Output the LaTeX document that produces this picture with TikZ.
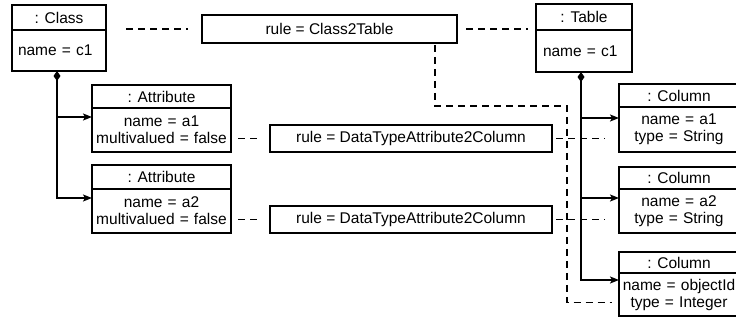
\documentclass[tikz,border=0pt]{standalone}
\usepackage{fontspec}
\setmainfont{Liberation Sans}
\usepackage{tikz}
\usetikzlibrary{calc,arrows.meta}
\tikzset{
    objpart/.style={draw, line width=1.5pt, inner xsep=3pt, inner ysep=0pt, outer sep=0pt,
        font=\fontsize{15.5}{17}\selectfont},
    rulebox/.style={objpart},
    trace/.style={line width=1.5pt, dash pattern=on 7pt off 5pt},
    comp/.style={line width=1.5pt, {Diamond[length=10pt,width=7pt]}-{Stealth[length=9pt,width=7pt,inset=2pt]}},
    part/.style={line width=1.5pt, -{Stealth[length=9pt,width=7pt,inset=2pt]}}
}
\NewDocumentCommand{\umlobj}{O{center} m m m m m m m}{ % uitlijning, naam, hoek linksboven, breedte, hoogte kop, hoogte romp, kop, romp
    \node[objpart, minimum width=#4pt, minimum height=#5pt, anchor=north west] (#2) at (#3) {#7};
    \node[objpart, minimum width=#4pt, minimum height=#6pt, text width=\dimexpr#4pt-6pt\relax,
        align=#1, anchor=north] (#2-b) at (#2.south) {#8};
}

\begin{document}
\begin{tikzpicture}[x=1pt,y=-1pt]
    \clip (0,0) rectangle (736,320);
    \umlobj[left]{cls}{12,5}{94}{25}{41}{: Class}{\hspace*{3pt}name = c1}
    \umlobj[left]{tbl}{536,4}{96}{26}{42}{: Table}{\hspace*{4pt}name = c1}
    \umlobj{attr1}{92,85}{139}{23}{44}{: Attribute}{name = a1\\multivalued = false}
    \umlobj{attr2}{92,165}{139}{24}{44}{: Attribute}{name = a2\\multivalued = false}
    \umlobj{col1}{619,84}{120}{23}{45}{: Column}{name = a1\\type = String}
    \umlobj{col2}{619,167}{120}{22}{44}{: Column}{name = a2\\type = String}
    \umlobj{col3}{619,252}{120}{21}{43}{: Column}{name = objectId\\type = Integer}
    \node[rulebox, minimum width=255pt, minimum height=28pt, anchor=north west] (c2t) at (202,15) {rule = Class2Table};
    \node[rulebox, minimum width=282pt, minimum height=27pt, anchor=north west] (dta1) at (270,125) {rule = DataTypeAttribute2Column};
    \node[rulebox, minimum width=282pt, minimum height=27pt, anchor=north west] (dta2) at (270,206) {rule = DataTypeAttribute2Column};

    % samenstelling
    \coordinate (cdia) at ([xshift=-2pt]cls-b.south);
    \coordinate (tdia) at ([xshift=-3pt]tbl-b.south);
    \coordinate (a1) at ([yshift=-9pt]attr1-b.north west);
    \coordinate (a2) at ([yshift=-9pt]attr2-b.north west);
    \coordinate (k1) at ([yshift=-11pt]col1-b.north west);
    \coordinate (k2) at ([yshift=-9pt]col2-b.north west);
    \coordinate (k3) at ([yshift=-7pt]col3-b.north west);
    \draw[comp] (cdia) |- (a2);
    \draw[part] (cdia |- a1) -- (a1);
    \draw[comp] (tdia) |- (k3);
    \draw[part] (tdia |- k1) -- (k1);
    \draw[part] (tdia |- k2) -- (k2);

    % sporen
    \draw[trace, shorten <=20pt, shorten >=14pt] (c2t.west -| cls.east) -- (c2t.west);
    \draw[trace, shorten <=9pt, shorten >=8pt] (c2t.east) -- (c2t.east -| tbl.west);
    \draw[trace, shorten <=7pt, shorten >=12pt] (dta1.west -| attr1-b.east) -- (dta1.west);
    \draw[trace, shorten <=7pt, shorten >=12pt] (dta2.west -| attr2-b.east) -- (dta2.west);
    \draw[trace, shorten <=4pt, shorten >=14pt] (dta1.east) -- (dta1.east -| col1-b.west);
    \draw[trace, shorten <=4pt, shorten >=14pt] (dta2.east) -- (dta2.east -| col2-b.west);
    \coordinate (bocht) at (567,106);
    \coordinate (c3) at ([yshift=-8pt]col3-b.west);
    \draw[trace, shorten <=2pt, shorten >=7pt] ([xshift=-22pt]c2t.south east) |- (bocht) |- (c3);
\end{tikzpicture}
\end{document}
